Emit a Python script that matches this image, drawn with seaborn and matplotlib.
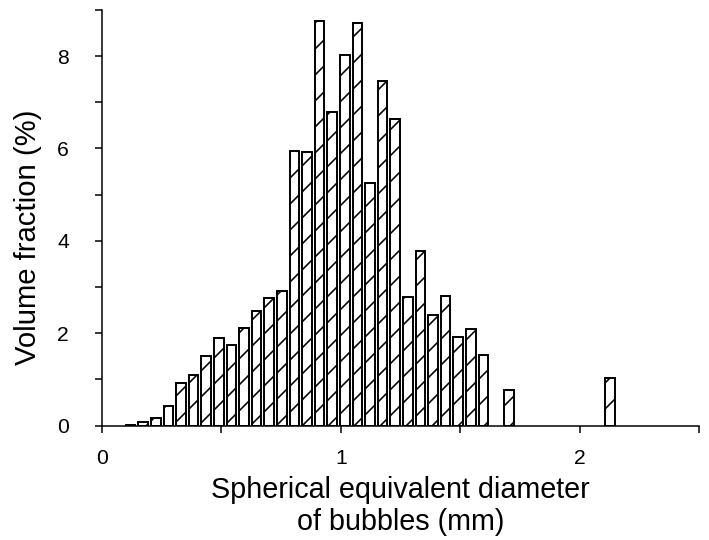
import matplotlib
matplotlib.use("Agg")
import matplotlib.pyplot as plt
import numpy as np
import seaborn as sns
from matplotlib.ticker import MultipleLocator

# bin centres (mm) and volume fraction (%)
diameter = [0.119, 0.172, 0.225, 0.278, 0.330, 0.383, 0.436, 0.489, 0.542,
            0.594, 0.647, 0.700, 0.753, 0.806, 0.858, 0.911, 0.964, 1.017,
            1.070, 1.122, 1.175, 1.228, 1.281, 1.334, 1.386, 1.439, 1.492,
            1.545, 1.598, 1.703, 2.126]
volume = [0.02, 0.09, 0.16, 0.43, 0.93, 1.10, 1.51, 1.89, 1.74,
          2.11, 2.49, 2.77, 2.92, 5.95, 5.93, 8.76, 6.78, 8.02,
          8.72, 5.25, 7.46, 6.64, 2.78, 3.78, 2.39, 2.80, 1.92,
          2.09, 1.52, 0.77, 1.03]

x_ticks = [0, 1, 2]
y_ticks = [0, 2, 4, 6, 8]

sns.set_style("ticks")
plt.rcParams["font.family"] = ["Liberation Sans", "DejaVu Sans"]
plt.rcParams["text.color"] = "black"
plt.rcParams["axes.labelcolor"] = "black"
plt.rcParams["hatch.linewidth"] = 1.5
plt.rcParams["hatch.color"] = "black"

DPI = 78
fig = plt.figure(figsize=(709 / DPI, 540 / DPI), dpi=DPI)
ax = fig.add_axes([0.1439, 0.2117, 0.842, 0.770])

sns.barplot(x=diameter, y=volume, native_scale=True, width=0.78,
            color="white", edgecolor="black", linewidth=1.8,
            errorbar=None, ax=ax)
for bar in ax.patches:
    bar.set_facecolor("white")
    bar.set_hatch("/")

ax.set_xlim(0, 2.5)
ax.set_ylim(0, 9)
ax.set_xticks(x_ticks)
ax.set_xticklabels([str(t) for t in x_ticks])
ax.set_yticks(y_ticks)
ax.set_yticklabels([str(t) for t in y_ticks])
ax.xaxis.set_minor_locator(MultipleLocator(0.5))
ax.yaxis.set_minor_locator(MultipleLocator(1))

ax.tick_params(axis="both", which="both", direction="out", length=6.5,
               width=1.4, colors="black", labelcolor="black")
ax.tick_params(axis="y", which="major", pad=24, labelsize=19.5)
ax.tick_params(axis="x", which="major", pad=15, labelsize=19.5)

for side in ["top", "right"]:
    ax.spines[side].set_visible(False)
for side in ["left", "bottom"]:
    ax.spines[side].set_linewidth(1.4)
    ax.spines[side].set_color("black")

ax.set_ylabel("Volume fraction (%)", fontsize=27, color="black")
ax.yaxis.set_label_coords(-0.100, 0.454)
ax.set_xlabel("Spherical equivalent diameter\nof bubbles (mm)", fontsize=26.5,
              linespacing=1.2, color="black")
ax.xaxis.set_label_coords(0.5, -0.121)

fig.savefig("out.png", dpi=DPI, facecolor="white")
plt.close(fig)
